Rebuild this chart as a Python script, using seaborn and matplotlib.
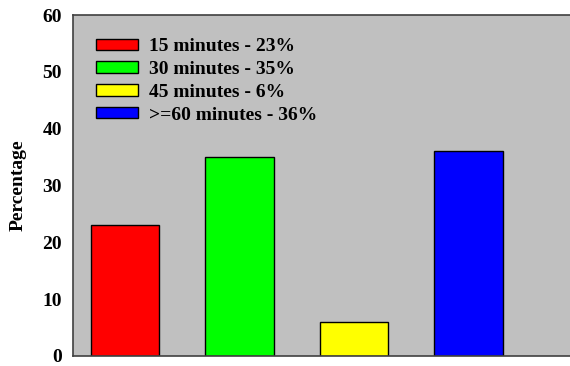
import matplotlib
matplotlib.use("Agg")
import matplotlib.pyplot as plt
import seaborn as sns
import pandas as pd
from matplotlib.patches import Patch

categories = ["15 minutes", "30 minutes", "45 minutes", ">=60 minutes"]
values = [23, 35, 6, 36]
colors = ["#ff0000", "#00ff00", "#ffff00", "#0000ff"]
yticks = [0, 10, 20, 30, 40, 50, 60]

sns.set_style("white")
plt.rcParams["font.family"] = ["Liberation Serif", "DejaVu Serif"]
plt.rcParams["font.weight"] = "bold"
plt.rcParams["text.color"] = "black"
plt.rcParams["axes.labelcolor"] = "black"

df = pd.DataFrame({"category": categories, "value": values})

fig = plt.figure(figsize=(5.7, 3.66), dpi=100)
ax = fig.add_axes([73 / 570, 10 / 366, 1 - 73 / 570, 341 / 366])
ax.set_facecolor("#c0c0c0")

sns.barplot(data=df, x="category", y="value", hue="category",
            palette=colors, order=categories, hue_order=categories,
            width=0.6, saturation=1, edgecolor="black", linewidth=1.0,
            legend=False, ax=ax)

ax.set_xlim(-0.454, 3.886)
ax.set_ylim(0, 60)
ax.set_yticks(yticks)
ax.set_yticklabels([str(t) for t in yticks], fontsize=14, fontweight="bold")
ax.set_xticks([])
ax.set_xlabel("")
ax.set_ylabel("Percentage", fontsize=14, fontweight="bold", labelpad=11,
              color="black")
ax.tick_params(axis="y", direction="out", length=5, width=1, color="#404040",
               labelcolor="black", pad=3)

for side in ["left", "bottom", "top"]:
    ax.spines[side].set_color("#404040")
    ax.spines[side].set_linewidth(1.2)
ax.spines["right"].set_visible(False)

handles = [Patch(facecolor=c, edgecolor="black", linewidth=1.0) for c in colors]
labels = [f"{c} - {v}%" for c, v in zip(categories, values)]
leg = ax.legend(handles, labels, loc="upper left", bbox_to_anchor=(0.03, 0.955),
                frameon=False, prop={"size": 14, "weight": "bold"},
                handlelength=2.2, handleheight=0.52, handletextpad=0.55,
                labelspacing=0.3, borderaxespad=0)
for t in leg.get_texts():
    t.set_color("black")

fig.savefig("out.png", dpi=100)
